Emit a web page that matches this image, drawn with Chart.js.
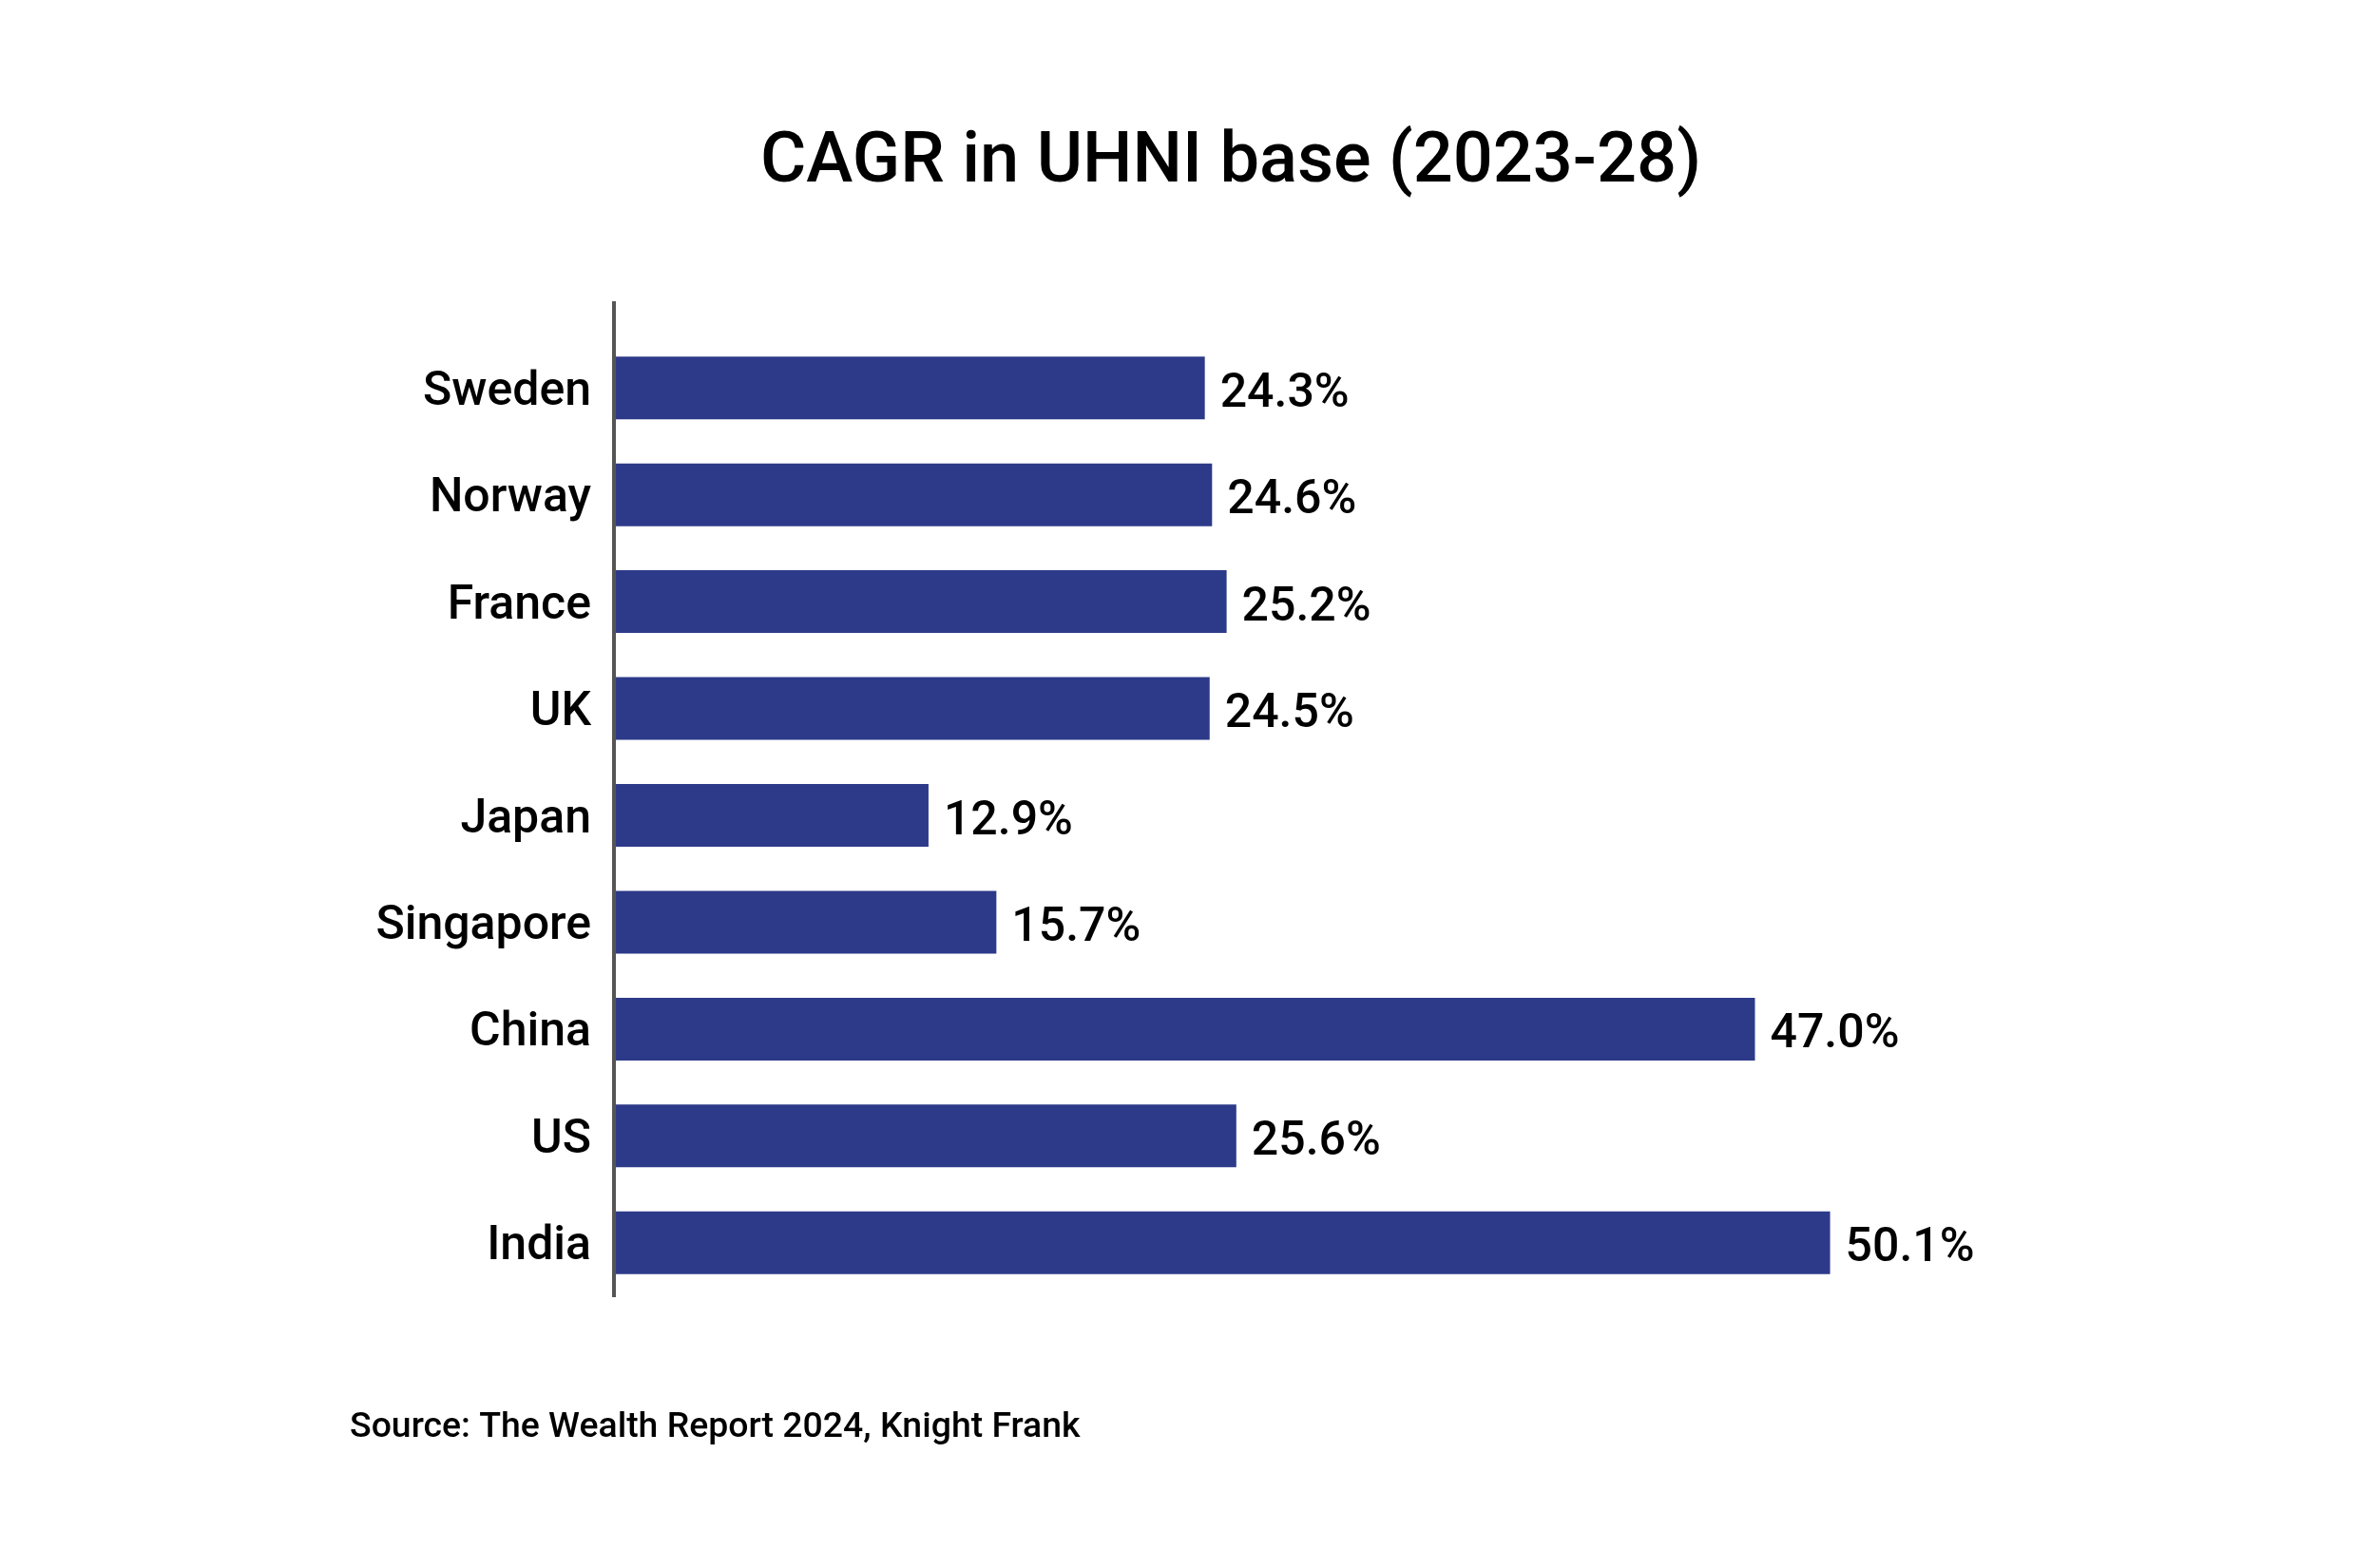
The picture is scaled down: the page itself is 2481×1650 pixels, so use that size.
<!DOCTYPE html>
<html>
<head>
<meta charset="utf-8">
<script src="https://cdn.jsdelivr.net/npm/chart.js@4.4.1/dist/chart.umd.min.js"></script>
<style>
  html, body { margin: 0; padding: 0; background: #ffffff; }
  #wrap { width: 2481px; height: 1650px; position: relative; }
</style>
</head>
<body>
<div id="wrap"><canvas id="c"></canvas></div>
<script>
const countries = ["Sweden", "Norway", "France", "UK", "Japan", "Singapore", "China", "US", "India"];
const cagr = [24.3, 24.6, 25.2, 24.5, 12.9, 15.7, 47.0, 25.6, 50.1];
const titleText = "CAGR in UHNI base (2023-28)";
const sourceText = "Source: The Wealth Report 2024, Knight Frank";

const BAR_COLOR = "#2d3a89";
const FONT = "Roboto, 'Noto Sans', sans-serif";

const decorPlugin = {
  id: "decor",
  afterDatasetsDraw(chart) {
    const ctx = chart.ctx;
    const area = chart.chartArea;
    ctx.save();
    // axis line
    ctx.strokeStyle = "#555555";
    ctx.lineWidth = 4;
    ctx.beginPath();
    ctx.moveTo(area.left - 2, area.top - 35);
    ctx.lineTo(area.left - 2, area.bottom + 1);
    ctx.stroke();
    // value labels
    const meta = chart.getDatasetMeta(0);
    ctx.fillStyle = "#000000";
    ctx.font = "500 50px " + FONT;
    ctx.textAlign = "left";
    ctx.textBaseline = "middle";
    meta.data.forEach((bar, i) => {
      const v = chart.data.datasets[0].data[i];
      ctx.fillText(v.toFixed(1) + "%", bar.x + 16, bar.y + 7);
    });
    // title
    ctx.font = "500 74px " + FONT;
    ctx.textAlign = "center";
    ctx.textBaseline = "alphabetic";
    ctx.fillText(titleText, 1295, 191);
    // source
    ctx.font = "500 37.4px " + FONT;
    ctx.textAlign = "left";
    ctx.fillText(sourceText, 368, 1512);
    ctx.restore();
  }
};

new Chart(document.getElementById("c"), {
  type: "bar",
  data: {
    labels: countries,
    datasets: [{
      data: cagr,
      backgroundColor: BAR_COLOR,
      borderWidth: 0,
      categoryPercentage: 1.0,
      barPercentage: 0.587
    }]
  },
  options: {
    indexAxis: "y",
    responsive: true,
    maintainAspectRatio: false,
    animation: false,
    devicePixelRatio: 1,
    layout: { padding: { left: 0, right: 303, top: 352, bottom: 286 } },
    plugins: {
      legend: { display: false },
      title: { display: false },
      tooltip: { enabled: false }
    },
    scales: {
      x: {
        display: false,
        min: 0,
        max: 60
      },
      y: {
        afterFit(scale) { scale.width = 648; },
        grid: { display: false, drawTicks: false },
        border: { display: false },
        ticks: {
          color: "#000000",
          padding: 26,
          labelOffset: 5,
          font: { family: FONT, size: 50, weight: "500" }
        }
      }
    }
  },
  plugins: [decorPlugin]
});
</script>
</body>
</html>
